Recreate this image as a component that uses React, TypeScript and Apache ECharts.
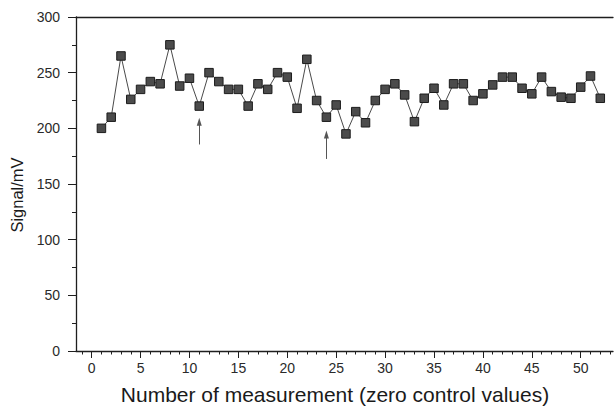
import React, { useEffect, useRef } from "react";
import * as echarts from "echarts";

// Signal (mV) of each zero-control measurement, measurement numbers 1..52
const signalValues: number[] = [
  200, 210, 265, 226, 235, 242, 240, 275, 238, 245,
  220, 250, 242, 235, 235, 220, 240, 235, 250, 246,
  218, 262, 225, 210, 221, 195, 215, 205, 225, 235,
  240, 230, 206, 227, 236, 221, 240, 240, 225, 231,
  239, 246, 246, 236, 231, 246, 233, 228, 227, 237,
  247, 227,
];
const measurementNumbers: number[] = signalValues.map((_, i) => i + 1);

// x-axis tick labels
const xTickLabels: number[] = [0, 5, 10, 15, 20, 25, 30, 35, 40, 45, 50];
// arrows pointing at particular measurements: [measurement, tail value, head value]
const arrowMeasurements: number[] = [11, 24];
const arrowTails: number[] = [185.5, 172.5];
const arrowHeads: number[] = [206, 194.5];

const X_MIN = -1.6;
const X_MAX = 53.3;
const minorTicks: number[] = [];
for (let v = -1; v <= 53; v++) minorTicks.push(v);

const FONT = "Liberation Sans, Arial, Helvetica, sans-serif";
const AX = "#1e1e1e";

export default function App() {
  const ref = useRef<HTMLDivElement>(null);
  useEffect(() => {
    if (!ref.current) return;
    const chart = echarts.init(ref.current, undefined, { renderer: "svg" });
    const data = measurementNumbers.map((m, i) => [m, signalValues[i]]);
    chart.setOption({
      animation: false,
      backgroundColor: "#ffffff",
      textStyle: { fontFamily: FONT },
      grid: { left: 76, top: 17, right: 1, bottom: 56.5, containLabel: false },
      xAxis: [
        {
          type: "value",
          min: X_MIN,
          max: X_MAX,
          position: "bottom",
          axisLine: { show: true, onZero: false, lineStyle: { color: AX, width: 1.3 } },
          axisTick: { show: true, customValues: xTickLabels, length: 7, lineStyle: { color: AX, width: 1 } },
          axisLabel: { customValues: xTickLabels, fontSize: 14, margin: 10, color: "#2a2a2a", fontFamily: FONT },
          splitLine: { show: false },
          name: "Number of measurement (zero control values)",
          nameLocation: "middle",
          nameGap: 33,
          nameTextStyle: { fontSize: 21, color: "#1a1a1a", fontFamily: FONT, padding: [0, 19, 0, 0] },
        },
        {
          type: "value",
          min: X_MIN,
          max: X_MAX,
          position: "bottom",
          offset: 0,
          axisLine: { show: false },
          axisTick: { show: true, customValues: minorTicks, length: 3.5, lineStyle: { color: AX, width: 1 } },
          axisLabel: { show: false },
          splitLine: { show: false },
        },
        {
          type: "value",
          min: X_MIN,
          max: X_MAX,
          position: "top",
          axisLine: { show: true, onZero: false, lineStyle: { color: AX, width: 1.3 } },
          axisTick: { show: false },
          axisLabel: { show: false },
          splitLine: { show: false },
        },
      ],
      yAxis: {
        type: "value",
        min: 0,
        max: 300,
        interval: 50,
        axisLine: { show: true, onZero: false, lineStyle: { color: AX, width: 1.3 } },
        axisTick: { show: true, length: 8, lineStyle: { color: AX, width: 1 } },
        minorTick: { show: true, splitNumber: 2, length: 4, lineStyle: { color: AX, width: 1 } },
        axisLabel: { fontSize: 14, margin: 16, color: "#2a2a2a", fontFamily: FONT },
        splitLine: { show: false },
        name: "Signal/mV",
        nameLocation: "middle",
        nameGap: 46,
        nameTextStyle: { fontSize: 16.5, color: "#1a1a1a", fontFamily: FONT, padding: [0, 22, 0, 0] },
      },
      series: [
        {
          type: "line",
          xAxisIndex: 0,
          data,
          symbol: "rect",
          symbolSize: 8.5,
          showAllSymbol: true,
          lineStyle: { color: "#4a4a4a", width: 1 },
          itemStyle: { color: "#4b4b4b", borderColor: "#1c1c1c", borderWidth: 1 },
          markLine: {
            silent: true,
            symbol: ["none", "triangle"],
            symbolSize: [5, 8],
            label: { show: false },
            lineStyle: { color: "#555", width: 1, type: "solid" },
            data: arrowMeasurements.map((m, i) => [
              { coord: [m, arrowTails[i]] },
              { coord: [m, arrowHeads[i]] },
            ]),
          },
        },
      ],
    });
    return () => chart.dispose();
  }, []);
  return (
    <div
      ref={ref}
      style={{ position: "fixed", left: 0, top: 0, width: 614, height: 410, background: "#fff" }}
    />
  );
}
